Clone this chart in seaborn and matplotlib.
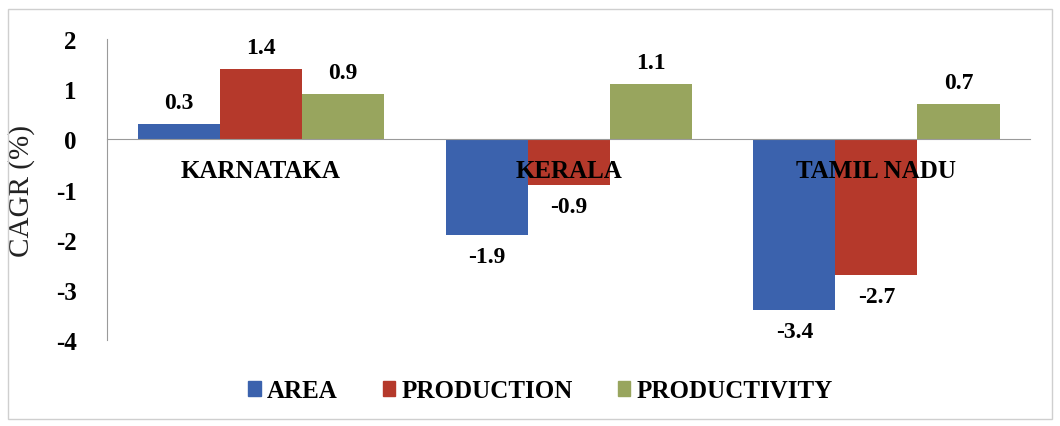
import matplotlib
matplotlib.use("Agg")
import matplotlib.pyplot as plt
import pandas as pd
import seaborn as sns
from matplotlib.patches import Rectangle

# 주별 CAGR 값
states = ["KARNATAKA", "KERALA", "TAMIL NADU"]
metrics = ["AREA", "PRODUCTION", "PRODUCTIVITY"]
area = [0.3, -1.9, -3.4]
production = [1.4, -0.9, -2.7]
productivity = [0.9, 1.1, 0.7]
colors = ["#3B62AD", "#B5392B", "#98A55E"]

df = pd.DataFrame({
    "state": states * 3,
    "metric": [m for m in metrics for _ in states],
    "cagr": area + production + productivity,
})

sns.set_style("white")
plt.rcParams["font.family"] = "Liberation Serif"
plt.rcParams["axes.unicode_minus"] = False
plt.rcParams["text.color"] = "black"
plt.rcParams["axes.labelcolor"] = "#222222"
plt.rcParams["xtick.color"] = "black"
plt.rcParams["ytick.color"] = "black"

fig = plt.figure(figsize=(10.6, 4.27), dpi=100)
ax = fig.add_axes([0.101, 0.201, 0.871, 0.705])

sns.barplot(data=df, x="state", y="cagr", hue="metric", hue_order=metrics,
            order=states, palette=colors, saturation=1, width=0.8,
            linewidth=0, ax=ax)

for cont in ax.containers:
    ax.bar_label(cont, fmt="%.1f", padding=8, fontsize=17, fontweight="bold")

ax.set_ylim(-4, 2)
ax.set_yticks(range(-4, 3))
ax.set_xlim(-0.5, 2.5)
ax.set_xlabel("")
ax.set_ylabel("CAGR (%)", fontsize=21)
ax.yaxis.set_label_coords(-0.078, 0.5)
ax.set_axisbelow(False)

for s in ["top", "right"]:
    ax.spines[s].set_visible(False)
ax.spines["bottom"].set_position(("data", 0))
ax.spines["bottom"].set_color("#9a9a9a")
ax.spines["left"].set_color("#9a9a9a")
ax.tick_params(axis="x", length=0, pad=14, labelsize=18)
ax.tick_params(axis="y", length=0, pad=22, labelsize=18)
for lab in ax.get_xticklabels() + ax.get_yticklabels():
    lab.set_fontweight("bold")

ax.legend_.remove()
handles = [Rectangle((0, 0), 1, 1, color=c) for c in colors]
fig.legend(handles, metrics, loc="center", bbox_to_anchor=(0.51, 0.082), ncol=3,
           frameon=False, handlelength=0.5, handleheight=0.5, handletextpad=0.25,
           columnspacing=1.8, prop={"weight": "bold", "size": 18})

# 차트 바깥 테두리
fig.patches.append(Rectangle((8 / 1060, 7 / 427), 1044 / 1060, 410 / 427,
                             transform=fig.transFigure, fill=False,
                             edgecolor="#cfcfcf", linewidth=1))

fig.savefig("out.png", dpi=100)
